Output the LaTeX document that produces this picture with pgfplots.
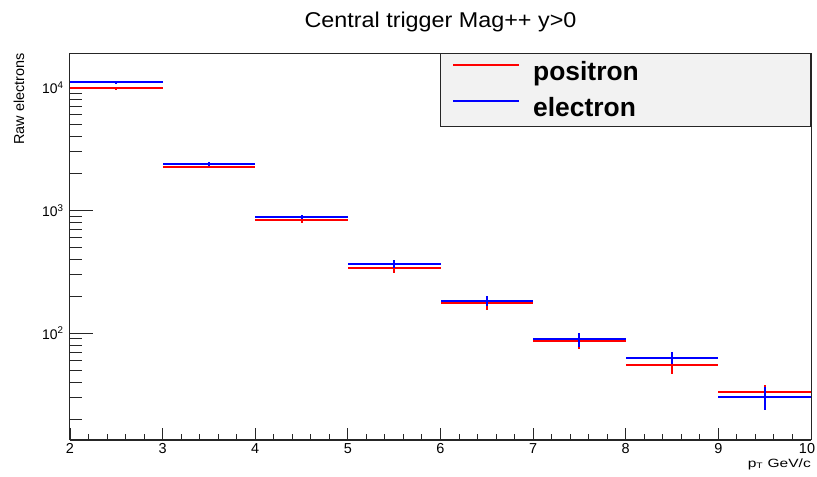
\documentclass[border=0pt]{standalone}
\usepackage{fontspec}
\setmainfont{Liberation Sans}
\newfontfamily\titlefont{Liberation Sans}[FakeStretch=1.09]
\newfontfamily\xlabfont{Liberation Sans}[FakeStretch=1.3]
\usepackage{graphicx}
\usepackage{pgfplots}
\pgfplotsset{compat=1.18}
\usepackage{pgfplotstable}

\pgfplotstableread{
x ex y ey
2.5 0.5 9890 250
3.5 0.5 2274 70
4.5 0.5 837 40
5.5 0.5 338 28
6.5 0.5 176.6 21
7.5 0.5 87.1 12
8.5 0.5 55.2 8.5
9.5 0.5 33.1 5
}\positron

\pgfplotstableread{
x ex y ey
2.5 0.5 11070 260
3.5 0.5 2393 70
4.5 0.5 885 40
5.5 0.5 366 28
6.5 0.5 184 18
7.5 0.5 89.4 12
8.5 0.5 63.3 7.5
9.5 0.5 30.3 6.5
}\electron

\begin{document}
\begin{tikzpicture}
\begin{axis}[
  name=main,
  scale only axis, width=741bp, height=387bp,
  xmin=2, xmax=10, ymode=log, ymin=13.5, ymax=19200,
  /pgf/number format/assume math mode=true,
  axis line style={black!85, line width=1bp},
  xtick=\empty,
  ytick={100,1000,10000},
  yticklabels={10\textsuperscript{2},10\textsuperscript{3},10\textsuperscript{4}},
  minor ytick={20,30,40,50,60,70,80,90,200,300,400,500,600,700,800,900,2000,3000,4000,5000,6000,7000,8000,9000},
  ytick pos=left, tick align=inside,
  major tick length=23bp, minor tick length=12bp,
  tick style={black!85, line width=1bp},
  yticklabel style={font=\fontsize{14}{16}\selectfont, xshift=-3bp},
  ylabel={Raw electrons},
  ylabel style={at={(axis description cs:-0.0614,1)}, anchor=south east, inner sep=0pt, font=\fontsize{14.5}{17}\selectfont},
  title={Central trigger Mag++ y>0},
  title style={font=\titlefont\fontsize{21.5}{25}\selectfont, at={(axis description cs:0.5,1)}, anchor=base, yshift=20bp},
  legend image code/.code={\draw[#1] (0bp,7bp) -- (66bp,7bp);},
  legend cell align=left,
  legend style={at={(axis description cs:1,1)}, anchor=north east, fill=black!5, draw=black!85, line width=1bp,
    inner xsep=12.3bp, inner ysep=8bp, row sep=15.5bp, column sep=13bp, nodes={inner sep=0pt},
    font=\bfseries\fontsize{26.5}{30}\selectfont},
]
\addlegendimage{draw=red, line width=1.5bp}
\addlegendentry{\makebox[265bp][l]{positron}}
\addlegendimage{draw=blue, line width=1.5bp}
\addlegendentry{\makebox[265bp][l]{electron}}
\addplot[forget plot, mark=none, draw=none,
  error bars/.cd, x dir=both, x explicit, y dir=both, y explicit, error mark=none,
  error bar style={draw=red, line width=2bp}]
  table[x=x, y=y, x error=ex, y error=ey] {\positron};
\addplot[forget plot, mark=none, draw=none,
  error bars/.cd, x dir=both, x explicit, y dir=both, y explicit, error mark=none,
  error bar style={draw=blue, line width=2bp}]
  table[x=x, y=y, x error=ex, y error=ey] {\electron};
\end{axis}
\begin{axis}[
  scale only axis, width=741bp, height=387bp,
  xmin=2, xmax=10, ymin=0, ymax=1,
  /pgf/number format/assume math mode=true,
  hide y axis, axis x line*=bottom,
  x axis line style={black!85, line width=1bp},
  xtick={2,3,4,5,6,7,8,9,10}, minor x tick num=4,
  xticklabels={2,3,4,5,6,7,8,9,\kern-8bp 10},
  tick align=inside, major tick length=12bp, minor tick length=6bp,
  tick style={black!85, line width=1bp},
  xticklabel style={font=\fontsize{14.5}{17}\selectfont},
  xlabel={p\textsubscript{T} GeV/c},
  xlabel style={at={(axis description cs:1,0)}, anchor=base east, inner sep=0pt, yshift=-27bp, font=\xlabfont\fontsize{12}{14}\selectfont},
]
\end{axis}
\pgfresetboundingbox
\path (main.south west) ++(-70bp,-37bp) rectangle ++(817bp,477bp);
\end{tikzpicture}
\end{document}
